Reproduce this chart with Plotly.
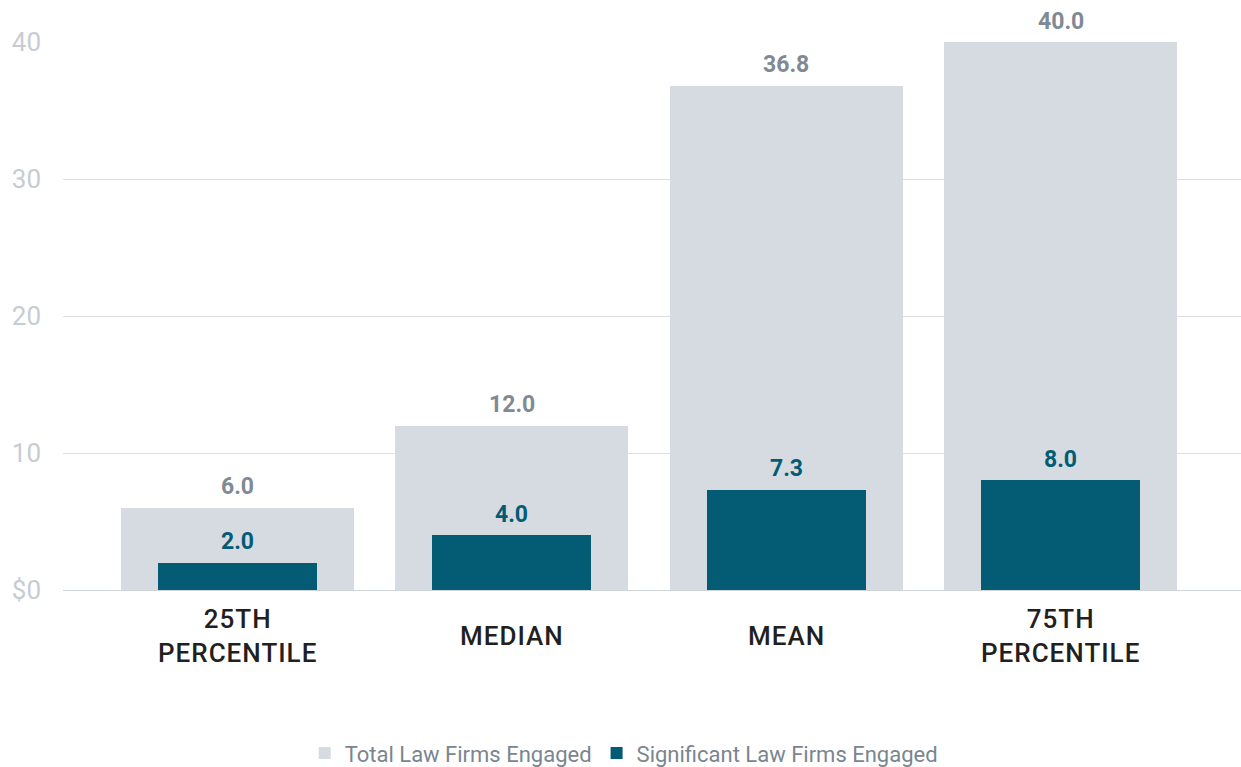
import plotly.graph_objects as go

categories = ["25TH<br>PERCENTILE", "MEDIAN", "MEAN", "75TH<br>PERCENTILE"]
total_firms = [6.0, 12.0, 36.8, 40.0]
significant_firms = [2.0, 4.0, 7.3, 8.0]
y_ticks = [0, 10, 20, 30, 40]
y_tick_labels = ["$0", "10", "20", "30", "40"]

TOTAL_COLOR = "#d5dbe0"
SIG_COLOR = "#035b74"

fig = go.Figure()
fig.add_trace(go.Bar(
    x=categories, y=total_firms, name="Total Law Firms Engaged",
    marker=dict(color=TOTAL_COLOR, line=dict(width=0)),
    width=0.85,
))
fig.add_trace(go.Bar(
    x=categories, y=significant_firms, name="Significant Law Firms Engaged",
    marker=dict(color=SIG_COLOR, line=dict(width=0)),
    width=0.58,
))

annotations = []
# value labels above each bar
for cat, v in zip(categories, total_firms):
    annotations.append(dict(
        x=cat, y=v, xref="x", yref="y", text=f"{v:.1f}", showarrow=False,
        yanchor="middle", yshift=21,
        font=dict(family="Roboto", size=23, color="#7f8a94", weight="bold"),
    ))
for cat, v in zip(categories, significant_firms):
    annotations.append(dict(
        x=cat, y=v, xref="x", yref="y", text=f"{v:.1f}", showarrow=False,
        yanchor="middle", yshift=21,
        font=dict(family="Roboto", size=23, color=SIG_COLOR, weight="bold"),
    ))
# category labels, vertically centred below the axis, slightly tracked out
for cat in categories:
    spaced = "<br>".join(
        f'<span style="letter-spacing:1px">{line}</span>' for line in cat.split("<br>")
    )
    annotations.append(dict(
        x=cat, y=-0.084, xref="x", yref="paper", text=spaced, showarrow=False,
        yanchor="middle", xanchor="center", align="center",
        font=dict(family="Roboto", size=26, color="#231f20", weight=500),
    ))

fig.update_layout(
    width=1241, height=767,
    margin=dict(l=63, r=0, t=42, b=177, autoexpand=False),
    barmode="overlay",
    plot_bgcolor="white", paper_bgcolor="white",
    font=dict(family="Roboto"),
    annotations=annotations,
    xaxis=dict(
        range=[-0.635, 3.657],
        showticklabels=False,
        showgrid=False, ticks="", showline=False,
    ),
    yaxis=dict(
        range=[0, 40],
        tickvals=y_ticks, ticktext=y_tick_labels,
        tickfont=dict(family="Roboto", size=26, color="#c7ccd3"),
        showgrid=True, gridcolor="#dcdfe3", gridwidth=1,
        zeroline=True, zerolinecolor="#cfd4d9", zerolinewidth=1,
        ticks="", ticklabelstandoff=21,
    ),
    legend=dict(
        orientation="h", x=0.476, xanchor="center", y=-0.298, yanchor="middle",
        font=dict(family="Roboto", size=22, color="#7a8590"),
        traceorder="normal",
    ),
    bargap=0,
)

fig.write_html("out.html")
